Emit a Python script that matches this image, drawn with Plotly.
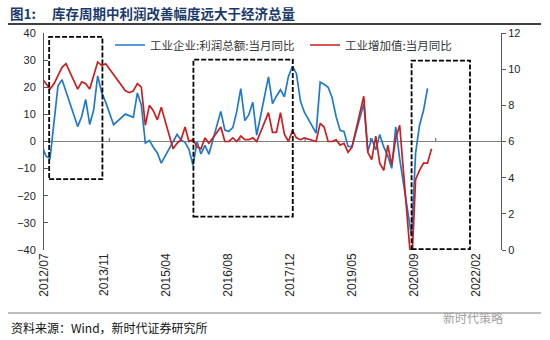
import pandas as pd
import plotly.graph_objects as go

# ---------------- data ----------------
months = (
    ["2012/06", "2012/07", "2012/08", "2012/09", "2012/10", "2012/11", "2012/12"]
    + [f"{y}/{m:02d}" for y in range(2013, 2020) for m in range(3, 13)]
    + ["2020/03", "2020/04", "2020/05", "2020/06", "2020/07", "2020/08"]
)

profit_yoy = [
    -1.7, -5.4, -6.2, 7.8, 20.5, 22.8, 18.5,                  # 2012/06-12
    5.5, 9.3, 15.5, 6.3, 11.6, 24.2, 18.0, 14.5, 10.0, 6.2,    # 2013
    10.1, 9.6, 8.9, 17.9, 13.5, -0.6, 0.4, -2.1, -4.2, -8.0,   # 2014
    -0.4, 2.6, 0.6, -0.3, -2.9, -8.8, -0.1, -4.6, -1.4, -4.7,  # 2015
    11.1, 4.2, 3.7, 5.1, 11.0, 19.5, 7.7, 9.8, 14.5, 2.3,      # 2016
    23.8, 14.0, 16.7, 19.1, 16.5, 24.0, 27.7, 25.1, 14.9, 10.8,  # 2017
    3.1, 21.9, 21.1, 20.0, 16.2, 9.2, 4.1, 3.6, -1.8, -1.9,    # 2018
    13.9, -3.7, 1.1, -3.1, 2.6, -2.0, -5.3, -9.9, 5.4, -6.3,   # 2019
    -34.9, -4.3, 6.0, 11.5, 19.6, None,                        # 2020
]

iva_yoy = [
    9.5, 9.2, 8.9, 9.2, 9.6, 10.1, 10.3,                       # 2012/06-12
    8.9, 9.3, 9.2, 8.9, 9.7, 10.4, 10.2, 10.3, 10.0, 9.7,      # 2013
    8.8, 8.7, 8.8, 9.2, 9.0, 6.9, 8.0, 7.7, 7.2, 7.9,          # 2014
    5.6, 5.9, 6.1, 6.8, 6.0, 6.1, 5.7, 5.6, 6.2, 5.9,          # 2015
    6.8, 6.0, 6.0, 6.2, 6.0, 6.3, 6.1, 6.1, 6.2, 6.0,          # 2016
    7.6, 6.5, 6.5, 7.6, 6.4, 6.0, 6.6, 6.2, 6.1, 6.2,          # 2017
    6.0, 7.0, 6.8, 6.0, 6.0, 6.1, 5.8, 5.9, 5.4, 5.7,          # 2018
    8.5, 5.4, 5.0, 6.3, 4.8, 4.4, 5.8, 4.7, 6.2, 6.9,          # 2019
    -1.1, 3.9, 4.4, 4.8, 4.8, 5.6,                             # 2020
]

tick_labels = ["2012/07", "2013/11", "2015/04", "2016/08",
               "2017/12", "2019/05", "2020/09", "2022/02"]

name_profit = "工业企业:利润总额:当月同比"
name_iva = "工业增加值:当月同比"

# ---------------- layout helpers ----------------
W, H = 550, 340
L, R, T, B = 44, 49, 33, 90
PW, PH = W - L - R, H - T - B
BASE = pd.Timestamp("2012-07-01")


def idx2date(i):
    return BASE + pd.Timedelta(days=i * 30.4375)


def px2x(px):
    return (px - L) / PW


def py2y(py):
    return (H - B - py) / PH


dates = pd.to_datetime(months, format="%Y/%m")

fig = go.Figure()
fig.add_trace(go.Scatter(
    x=dates, y=profit_yoy, name=name_profit, mode="lines",
    line=dict(color="#1F7ACC", width=1.7), connectgaps=False, yaxis="y"))
fig.add_trace(go.Scatter(
    x=dates, y=iva_yoy, name=name_iva, mode="lines",
    line=dict(color="#CC1E1E", width=1.7), yaxis="y2"))

shapes = []
# dashed boxes
boxes = [(0.8, 14.2, 38.6, -13.9), (37.1, 62.1, 30.2, -27.7), (92.0, 106.7, 29.8, -39.7)]
for i0, i1, ytop, ybot in boxes:
    shapes.append(dict(type="rect", xref="x", yref="y",
                       x0=idx2date(i0), x1=idx2date(i1), y0=ybot, y1=ytop,
                       line=dict(color="black", width=1.8, dash="5px,2px"),
                       fillcolor="rgba(0,0,0,0)", layer="above"))
# small ticks on the zero line
for k in range(1, 7):
    d = idx2date(-0.5 + 115 / 7 * k)
    shapes.append(dict(type="line", xref="x", yref="y", x0=d, x1=d, y0=0, y1=1.3,
                       line=dict(color="#595959", width=1)))
# title rule and footer rule
shapes.append(dict(type="line", xref="paper", yref="paper",
                   x0=px2x(8), x1=px2x(541), y0=py2y(24), y1=py2y(24),
                   line=dict(color="black", width=1.5)))
shapes.append(dict(type="line", xref="paper", yref="paper",
                   x0=px2x(8), x1=px2x(541), y0=py2y(313), y1=py2y(313),
                   line=dict(color="#7F7F7F", width=1.2)))

cjk = "Noto Sans CJK SC"
annotations = [
    dict(text="<b>图1:</b>", xref="paper", yref="paper", x=px2x(8), y=py2y(13),
         xanchor="left", yanchor="middle", showarrow=False,
         font=dict(family=cjk, size=13.5, color="#1B3A6B")),
    dict(text="<b>库存周期中利润改善幅度远大于经济总量</b>", xref="paper", yref="paper",
         x=px2x(50), y=py2y(13), xanchor="left", yanchor="middle", showarrow=False,
         font=dict(family=cjk, size=13.5, color="#1B3A6B")),
    dict(text="资料来源：Wind，新时代证券研究所", xref="paper", yref="paper",
         x=px2x(9), y=py2y(327), xanchor="left", yanchor="middle", showarrow=False,
         font=dict(family=cjk, size=12, color="#111111")),
    dict(text="新时代策略", xref="paper", yref="paper",
         x=px2x(505), y=py2y(317), xanchor="right", yanchor="middle", showarrow=False,
         font=dict(family=cjk, size=12, color="#A0A0A0")),
]

tickfont = dict(family="Liberation Sans, Arial", size=11, color="#262626")

label_pos = [-1.0 + 15.62 * k for k in range(len(tick_labels))]
label_pos[0] = -0.45  # keep first label inside the axis range

fig.update_layout(
    width=W, height=H,
    margin=dict(l=L, r=R, t=T, b=B, pad=0),
    paper_bgcolor="white", plot_bgcolor="white",
    showlegend=True,
    legend=dict(orientation="h", x=px2x(110), y=py2y(45), xanchor="left",
                yanchor="middle", bgcolor="rgba(0,0,0,0)",
                font=dict(family=cjk, size=11.5, color="#333333"),
                entrywidth=150, entrywidthmode="pixels"),
    xaxis=dict(type="date", range=[idx2date(-0.5), idx2date(114.5)],
               tickvals=[idx2date(p) for p in label_pos],
               ticktext=tick_labels, tickangle=-90, ticks="",
               showgrid=False, showline=False, zeroline=False,
               tickfont=dict(family="Liberation Sans, Arial", size=12, color="#262626")),
    yaxis=dict(range=[-40, 40], dtick=10, ticks="inside", ticklen=4,
               tickcolor="#595959", showline=True, linecolor="#595959", linewidth=1,
               showgrid=False, zeroline=True, zerolinecolor="#808080", zerolinewidth=1,
               tickfont=tickfont, ticklabelstandoff=5),
    yaxis2=dict(range=[0, 12], dtick=2, overlaying="y", side="right",
                ticks="outside", ticklen=4, tickcolor="#595959",
                showline=True, linecolor="#595959", linewidth=1,
                showgrid=False, zeroline=False, tickfont=tickfont),
    shapes=shapes,
    annotations=annotations,
)

fig.write_html("out.html")
